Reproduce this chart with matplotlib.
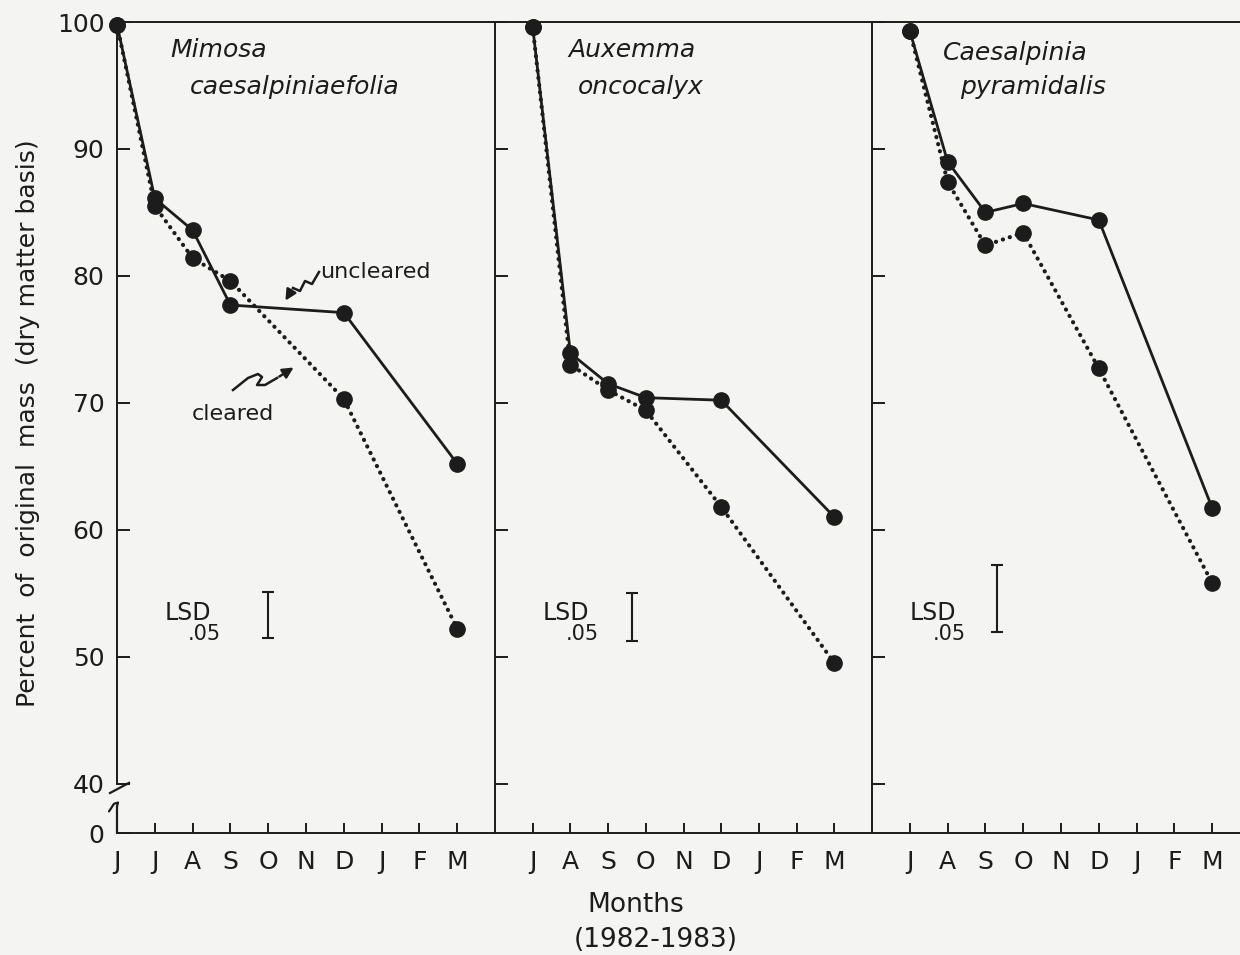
import matplotlib.pyplot as plt
import matplotlib.transforms as mtransforms
from matplotlib.lines import Line2D
from matplotlib.patches import FancyArrowPatch

plt.rcParams["font.family"] = ["DejaVu Sans"]

W, H = 1240, 955
ink = "#1c1c1c"
bg = "#f4f4f2"

# months counted from June 1982 (0) to March 1983 (9)
month_labels = ["J", "J", "A", "S", "O", "N", "D", "J", "F", "M"]
ytick_vals = [40, 50, 60, 70, 80, 90, 100]
zero_pos = 36.1  # where the broken axis puts 0

genus = ["Mimosa", "Auxemma", "Caesalpinia"]
epithet = ["caesalpiniaefolia", "oncocalyx", "pyramidalis"]

mimosa_x = [0, 1, 2, 3, 6, 9]
mimosa_uncleared = [99.8, 86.1, 83.6, 77.7, 77.1, 65.2]
mimosa_cleared = [99.8, 85.5, 81.4, 79.6, 70.3, 52.2]

auxemma_x = [1, 2, 3, 4, 6, 9]
auxemma_uncleared = [99.6, 73.9, 71.5, 70.4, 70.2, 61.0]
auxemma_cleared = [99.6, 73.0, 71.0, 69.4, 61.8, 49.5]

caesalpinia_x = [1, 2, 3, 4, 6, 9]
caesalpinia_uncleared = [99.3, 89.0, 85.0, 85.7, 84.4, 61.7]
caesalpinia_cleared = [99.3, 87.4, 82.4, 83.4, 72.7, 55.8]

lsd_low = [51.5, 51.2, 51.9]
lsd_high = [55.1, 55.0, 57.2]

xs = [mimosa_x, auxemma_x, caesalpinia_x]
uncleared = [mimosa_uncleared, auxemma_uncleared, caesalpinia_uncleared]
cleared = [mimosa_cleared, auxemma_cleared, caesalpinia_cleared]


def fx(x):
    return x / W


def fy(y):
    return 1 - y / H


fig = plt.figure(figsize=(W / 100, H / 100), dpi=100, facecolor=bg)

lefts = [117, 495, 872]
widths = [378, 377, 378]
ax_bottom = fy(833)
ax_height = (833 - 22) / H

# title anchors (left, baseline) for the two lines of each species name
title_pos = [((170, 57), (190, 94)), ((568, 57), (578, 94)), ((943, 60), (960, 94))]
lsd_bar_x = [4.0, 3.63, 3.3]
lsd_text_x = [1.27, 1.27, 1.0]

axes = []
for i in range(3):
    ax = fig.add_axes([fx(lefts[i]), ax_bottom, widths[i] / W, ax_height])
    ax.set_facecolor("none")
    ax.set_xlim(0, 10)
    ax.set_ylim(zero_pos, 100)

    ax.plot(xs[i], uncleared[i], color=ink, lw=2.0, marker="o", ms=11,
            clip_on=False, zorder=4)
    ax.plot(xs[i], cleared[i], color=ink, lw=3.0, linestyle=(0, (0.05, 1.7)),
            dash_capstyle="round", marker="o", ms=11, clip_on=False, zorder=3)

    # LSD bar
    mid = (lsd_low[i] + lsd_high[i]) / 2
    half = (lsd_high[i] - lsd_low[i]) / 2
    ax.errorbar([lsd_bar_x[i]], [mid], yerr=[half], fmt="none", ecolor=ink,
                elinewidth=1.5, capsize=4, capthick=1.5)
    ax.text(lsd_text_x[i], 52.9, "LSD", fontsize=17, color=ink,
            ha="left", va="baseline")
    ax.text(lsd_text_x[i] + 0.6, 51.3, ".05", fontsize=15, color=ink,
            ha="left", va="baseline")

    (g_x, g_y), (e_x, e_y) = title_pos[i]
    fig.text(fx(g_x), fy(g_y), genus[i], fontsize=18, style="italic",
             color=ink, ha="left", va="baseline")
    fig.text(fx(e_x), fy(e_y), epithet[i], fontsize=18, style="italic",
             color=ink, ha="left", va="baseline")

    for side in ["left", "top", "bottom"]:
        ax.spines[side].set_linewidth(1.4)
        ax.spines[side].set_color(ink)
    ax.spines["right"].set_visible(False)

    ax.tick_params(axis="both", direction="in", width=1.4, color=ink,
                   labelcolor=ink)
    ax.tick_params(axis="y", length=9, labelsize=18, pad=9)
    ax.tick_params(axis="x", length=7, labelsize=18, pad=12)

    if i == 0:
        ax.set_xticks(range(10))
        ax.set_xticklabels(month_labels)
        ax.set_yticks([zero_pos] + ytick_vals)
        ax.set_yticklabels(["0"] + [str(v) for v in ytick_vals])
    else:
        ax.set_xticks(range(1, 10))
        ax.set_xticklabels(month_labels[1:])
        ax.set_yticks(ytick_vals)
        ax.set_yticklabels([])
    axes.append(ax)

# broken y axis between 40 and 0
ax0 = axes[0]
ax0.spines["left"].set_bounds(40, 100)
blend = mtransforms.blended_transform_factory(ax0.transAxes, ax0.transData)
px = 1 / widths[0]
ax0.plot([12 * px, -7 * px], [40.05, 39.25], color=ink, lw=1.6,
         transform=blend, clip_on=False)
ax0.plot([-8 * px, -3 * px, 1 * px, 0, 0], [37.8, 38.4, 38.5, 38.2, zero_pos],
         color=ink, lw=1.6, transform=blend, clip_on=False,
         solid_capstyle="round")


def squiggle(points):
    xs_ = [fx(p[0]) for p in points[:-1]]
    ys_ = [fy(p[1]) for p in points[:-1]]
    fig.add_artist(Line2D(xs_, ys_, color=ink, lw=1.8,
                          transform=fig.transFigure, solid_joinstyle="round"))
    start = (fx(points[-2][0]), fy(points[-2][1]))
    end = (fx(points[-1][0]), fy(points[-1][1]))
    fig.add_artist(FancyArrowPatch(start, end, transform=fig.transFigure,
                                   arrowstyle="-|>", mutation_scale=16,
                                   lw=1.8, color=ink))


squiggle([(319, 272), (312, 284), (305, 281), (300, 291), (293, 288), (284, 303)])
squiggle([(233, 390), (248, 378), (258, 374), (262, 377), (257, 385),
          (265, 385), (277, 378), (296, 366)])
fig.text(fx(320), fy(278), "uncleared", fontsize=16, color=ink,
         ha="left", va="baseline")
fig.text(fx(192), fy(420), "cleared", fontsize=16, color=ink,
         ha="left", va="baseline")

fig.text(fx(636), fy(912), "Months", fontsize=19, color=ink,
         ha="center", va="baseline")
fig.text(fx(656), fy(947), "(1982-1983)", fontsize=19, color=ink,
         ha="center", va="baseline")
fig.text(fx(28), fy(423), "Percent  of  original  mass  (dry matter basis)",
         fontsize=18, color=ink, rotation=90, ha="center", va="center")

fig.savefig("out.png", dpi=100, facecolor=bg)
